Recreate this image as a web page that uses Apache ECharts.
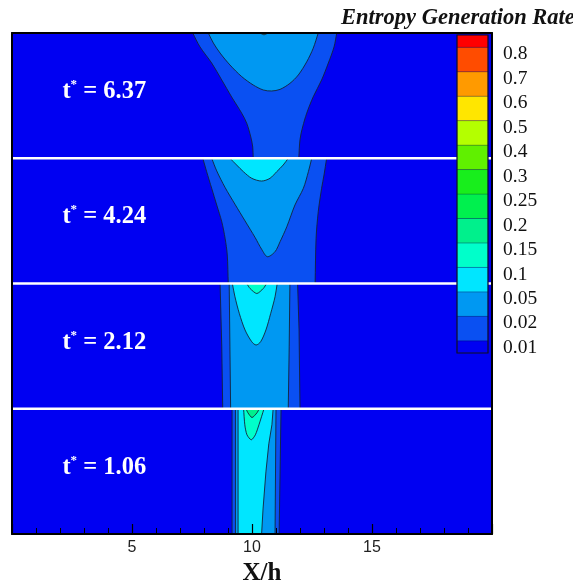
<!DOCTYPE html>
<html><head><meta charset="utf-8">
<script src="https://cdn.jsdelivr.net/npm/echarts@6/dist/echarts.min.js"></script>
<style>html,body{margin:0;padding:0;background:#fff}#c{width:573px;height:583px}</style>
</head><body><div id="c"></div>
<script>
// colour-bar levels (boundaries between bands, bottom to top)
const levels = ['0.01','0.02','0.05','0.1','0.15','0.2','0.25','0.3','0.4','0.5','0.6','0.7','0.8'];
// band colours, bottom (<0.01) to top (>0.8)
const bandColors = ['#0000F2','#0A50F2','#0098F2','#00E6FF','#00FFCA','#00F08C','#00F04E','#18EE1C','#60F000','#B4FF00','#FFE600','#FF9A00','#FF4C00','#FF0000'];
// time labels, top panel to bottom panel
const timeLabels = ['6.37','4.24','2.12','1.06'];
// X/h tick range
const xRange = [0, 20];

// contour regions per panel: band index, outline [X/h, height within panel (0 bottom .. 1 top)]
const panel1 = [
  {band:1, pts:[[7.53,1],[7.83,0.89],[8.32,0.76],[8.74,0.625],[9.15,0.49],[9.57,0.36],[9.78,0.28],[9.95,0.17],[10.03,0.09],[10.05,0],
                [11.95,0],[12.0,0.15],[12.11,0.25],[12.28,0.36],[12.55,0.49],[12.90,0.625],[13.18,0.76],[13.42,0.89],[13.53,1]]},
  {band:2, pts:[[8.18,1],[8.39,0.92],[8.67,0.84],[9.08,0.745],[9.57,0.652],[10.05,0.585],[10.47,0.545],[10.82,0.537],[11.17,0.55],
                [11.58,0.598],[11.93,0.665],[12.28,0.77],[12.55,0.878],[12.76,1]]},
  {band:3, pts:[[10.32,1],[10.5,0.985],[10.68,1]]}
];
const panel2 = [
  {band:1, pts:[[7.95,1],[8.11,0.893],[8.32,0.76],[8.53,0.627],[8.74,0.493],[8.88,0.36],[8.97,0.228],[9.01,0],
                [12.63,0],[12.67,0.36],[12.76,0.573],[12.9,0.76],[13.0,0.866],[13.11,1]]},
  {band:2, pts:[[8.32,1],[8.53,0.899],[8.88,0.766],[9.29,0.633],[9.71,0.5],[10.13,0.367],[10.40,0.274],[10.64,0.214],
                [10.96,0.254],[11.17,0.334],[11.45,0.453],[11.79,0.627],[12.14,0.76],[12.35,0.893],[12.49,1]]},
  {band:3, pts:[[9.08,1],[9.36,0.946],[9.64,0.893],[9.99,0.84],[10.40,0.818],[10.75,0.84],[11.03,0.893],[11.30,0.946],[11.51,1]]}
];
const panel3 = [
  {band:1, pts:[[8.67,1],[8.74,0.5],[8.78,0],[12.0,0],[11.96,0.63],[11.90,1]]},
  {band:2, pts:[[9.05,1],[9.08,0.5],[9.11,0],[11.51,0],[11.55,0.5],[11.58,1]]},
  {band:3, pts:[[9.18,1],[9.29,0.894],[9.47,0.762],[9.71,0.629],[9.99,0.535],[10.17,0.509],[10.36,0.535],[10.58,0.629],[10.78,0.762],[10.96,0.894],[11.05,1]]},
  {band:4, pts:[[9.78,1],[9.92,0.96],[10.20,0.92],[10.47,0.96],[10.61,1]]}
];
const panel4 = [
  {band:1, pts:[[9.17,1],[9.17,0],[11.13,0],[11.21,1]]},
  {band:2, pts:[[9.31,1],[9.31,0],[10.96,0],[11.0,1]]},
  {band:3, pts:[[9.42,1],[9.42,0],[10.40,0],[10.46,0.2],[10.58,0.496],[10.70,0.72],[10.83,0.872],[10.88,1]]},
  {band:4, pts:[[9.65,1],[9.70,0.872],[9.79,0.792],[9.97,0.752],[10.14,0.792],[10.29,0.872],[10.5,1]]},
  {band:5, pts:[[9.75,1],[9.83,0.968],[10.0,0.93],[10.21,0.968],[10.30,1]]}
];
const panels = [panel1, panel2, panel3, panel4];
const nPanels = panels.length;

const contours = [];
panels.forEach((arr, p) => arr.forEach(c => contours.push({p, band: c.band, pts: c.pts})));

// push the outline a little beyond the panel edge so the clip gives a clean cut
function isEdge(q){ return q[1] >= 1 || q[1] <= 0; }
function ext(p, q){
  const dy = p[1] - q[1];
  if (Math.abs(dy) < 1e-6) return null;
  const t = 0.12 / Math.abs(dy);
  return [p[0] + (p[0]-q[0])*Math.min(t,3), p[1] + dy*t];
}
function extend(pts){
  const out = [], n = pts.length;
  for (let i=0;i<n;i++){
    const p = pts[i];
    if (!isEdge(p)) { out.push(p); continue; }
    const prev = i>0 ? pts[i-1] : null, next = i<n-1 ? pts[i+1] : null;
    if (prev && !isEdge(prev)) { out.push(p); const e = ext(p, prev); if (e) out.push(e); }
    else if (next && !isEdge(next)) { const e = ext(p, next); if (e) out.push(e); out.push(p); }
    else out.push(p);
  }
  return out;
}
// curved outlines get smoothed, near-straight column outlines stay straight
function smoothFor(c){
  if (c.pts.length > 8) return 0.3;
  if (c.pts.length >= 5 && c.pts.every(q => q[1] > 0)) return 0.25;
  return 0;
}

const chart = echarts.init(document.getElementById('c'), null, {renderer:'canvas'});
const serif = 'Liberation Serif, Times New Roman, serif';

chart.setOption({
  animation: false,
  title: {text:'Entropy Generation Rate', left: 336, top: 2,
    textStyle:{fontFamily: serif, fontStyle:'italic', fontWeight:'bold', fontSize:22.5, color:'#111'}},
  grid: [
    {left:12, top:33, width:480, height:501, show:true, backgroundColor: bandColors[0], borderWidth:0,
     containLabel:false, outerBoundsMode:'none'},
    {left:457, top:35, width:31, height:318, show:false, containLabel:false, outerBoundsMode:'none'}
  ],
  xAxis: [
    {gridIndex:0, type:'value', min:xRange[0], max:xRange[1], interval:5, position:'bottom', z:10,
     axisLine:{show:true, onZero:false, lineStyle:{color:'#000', width:2}},
     axisTick:{show:true, inside:true, length:10, lineStyle:{color:'#000', width:1.2}},
     minorTick:{show:true, splitNumber:5, length:6, lineStyle:{color:'#000', width:1}},
     axisLabel:{show:true, margin:6, fontSize:16, color:'#222', fontFamily:'Liberation Sans, Arial, sans-serif', showMinLabel:false, showMaxLabel:false},
     splitLine:{show:false}, minorSplitLine:{show:false},
     name:'X/h', nameLocation:'middle', nameGap:21,
     nameTextStyle:{fontFamily:serif, fontWeight:'bold', fontSize:25, color:'#111', padding:[0,0,0,20]}},
    {gridIndex:0, type:'value', min:xRange[0], max:xRange[1], position:'top', z:10,
     axisLine:{show:true, onZero:false, lineStyle:{color:'#000', width:2}},
     axisTick:{show:false}, axisLabel:{show:false}, splitLine:{show:false}},
    {gridIndex:1, type:'value', min:0, max:1, show:false}
  ],
  yAxis: [
    {gridIndex:0, type:'value', min:0, max:nPanels, interval:1, position:'left', z:10,
     axisLine:{show:true, onZero:false, lineStyle:{color:'#000', width:2}},
     axisTick:{show:false}, axisLabel:{show:false}, splitLine:{show:false}},
    {gridIndex:0, type:'value', min:0, max:nPanels, interval:1, position:'right', z:10,
     axisLine:{show:true, onZero:false, lineStyle:{color:'#000', width:2}},
     axisTick:{show:false}, axisLabel:{show:false}, splitLine:{show:false}},
    {gridIndex:1, type:'value', min:0, max:levels.length, show:false}
  ],
  series: [
    { // contour fills
      type:'custom', xAxisIndex:0, yAxisIndex:0, z:2, clip:false, silent:true,
      data: contours.map((c,i)=>[i]),
      renderItem: (params, api) => {
        const c = contours[api.value(0)];
        const base = nPanels - 1 - c.p;
        const pts = extend(c.pts).map(q => api.coord([q[0], base + q[1]]));
        const tl = api.coord([xRange[0], base+1]), br = api.coord([xRange[1], base]);
        return {type:'group',
          clipPath:{type:'rect', shape:{x:tl[0], y:tl[1], width:br[0]-tl[0], height:br[1]-tl[1]}},
          children:[{type:'polygon', shape:{points:pts, smooth:smoothFor(c), smoothConstraint:false},
            style:{fill:bandColors[c.band], stroke:'#14243a', lineWidth:0.9}}]};
      }
    },
    { // white separators between panels
      type:'custom', xAxisIndex:0, yAxisIndex:0, z:4, clip:false, silent:true,
      data: [[1],[2],[3]],
      renderItem: (params, api) => {
        const y = api.value(0);
        const a = api.coord([xRange[0], y]), b = api.coord([xRange[1], y]);
        return {type:'line', shape:{x1:a[0], y1:a[1], x2:b[0], y2:b[1]}, style:{stroke:'#fff', lineWidth:2.6}};
      }
    },
    { // time labels
      type:'custom', xAxisIndex:0, yAxisIndex:0, z:5, clip:false, silent:true,
      data: timeLabels.map((t,i)=>[i]),
      renderItem: (params, api) => {
        const i = api.value(0);
        const pt = api.coord([2.1, nPanels - 1 - i + 0.53]);
        return {type:'text', x:pt[0], y:pt[1], style:{
          text:'{t|t}{s|*}{t| = ' + timeLabels[i] + '}', verticalAlign:'middle', align:'left',
          rich:{
            t:{fontFamily:serif, fontWeight:'bold', fontSize:24.5, fill:'#fff', lineHeight:27},
            s:{fontFamily:serif, fontWeight:'bold', fontSize:13, fill:'#fff', verticalAlign:'top', lineHeight:14}
          }}};
      }
    },
    { // colour bar bands
      type:'custom', xAxisIndex:2, yAxisIndex:2, z:6, clip:false, silent:true,
      data: bandColors.map((c,i)=>[i]),
      renderItem: (params, api) => {
        const i = api.value(0);
        const lo = Math.max(0, i-0.5), hi = Math.min(levels.length, i+0.5);
        const a = api.coord([0, hi]), b = api.coord([1, lo]);
        return {type:'rect', shape:{x:a[0], y:a[1], width:b[0]-a[0], height:b[1]-a[1]},
          style:{fill:bandColors[i], stroke:'rgba(0,0,40,0.35)', lineWidth:0.6}};
      }
    },
    { // colour bar outline
      type:'custom', xAxisIndex:2, yAxisIndex:2, z:7, clip:false, silent:true,
      data: [[0]],
      renderItem: (params, api) => {
        const a = api.coord([0, levels.length]), b = api.coord([1, 0]);
        return {type:'rect', shape:{x:a[0], y:a[1], width:b[0]-a[0], height:b[1]-a[1]},
          style:{fill:'none', stroke:'#101030', lineWidth:1.2}};
      }
    },
    { // colour bar labels
      type:'custom', xAxisIndex:2, yAxisIndex:2, z:7, clip:false, silent:true,
      data: levels.map((l,i)=>[i]),
      renderItem: (params, api) => {
        const i = api.value(0);
        const p = api.coord([1, i+0.5]);
        return {type:'text', x:p[0]+15, y:p[1]+7, style:{text:levels[i], fontFamily:serif, fontSize:19.5,
          fill:'#111', verticalAlign:'middle', align:'left'}};
      }
    }
  ]
});
</script></body></html>
